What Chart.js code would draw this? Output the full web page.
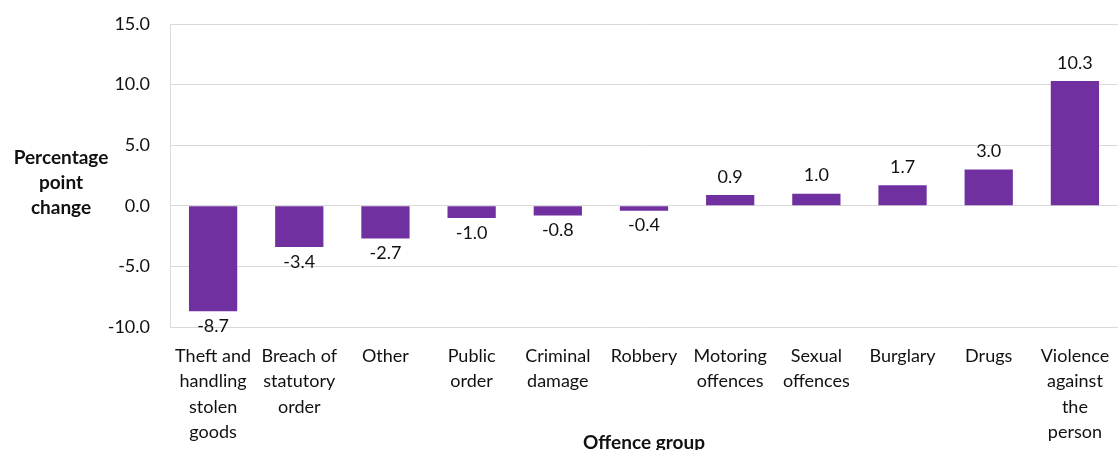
<!DOCTYPE html>
<html>
<head>
<meta charset="utf-8">
<script src="https://cdn.jsdelivr.net/npm/chart.js@4"></script>
<style>
  html, body { margin: 0; padding: 0; background: #fff; }
  #wrap { width: 1118px; height: 450px; }
</style>
</head>
<body>
<div id="wrap"><canvas id="chart" width="1118" height="450"></canvas></div>
<script>
// Offence groups (x axis), multi-line as in the source
const offenceGroups = [
    ['Theft and', 'handling', 'stolen', 'goods'],
    ['Breach of', 'statutory', 'order'],
    'Other',
    ['Public', 'order'],
    ['Criminal', 'damage'],
    'Robbery',
    ['Motoring', 'offences'],
    ['Sexual', 'offences'],
    'Burglary',
    'Drugs',
    ['Violence', 'against', 'the', 'person']
];

// Percentage point change per group
const pointChange = [-8.7, -3.4, -2.7, -1.0, -0.8, -0.4, 0.9, 1.0, 1.7, 3.0, 10.3];

const yTicks = { min: -10, max: 15, step: 5 };
const yTitle = ['Percentage', 'point', 'change'];
const xTitle = 'Offence group';

const FONT = 'Lato, "Open Sans", sans-serif';
const TEXT = '#111111';
const GRID = '#d9d9d9';

// value labels above/below each bar
const valueLabels = {
    id: 'valueLabels',
    afterDatasetsDraw(chart) {
        const ctx = chart.ctx;
        const meta = chart.getDatasetMeta(0);
        ctx.save();
        ctx.font = '18px ' + FONT;
        ctx.fillStyle = TEXT;
        ctx.textAlign = 'center';
        meta.data.forEach((bar, i) => {
            const v = chart.data.datasets[0].data[i];
            if (v >= 0) {
                ctx.textBaseline = 'bottom';
                ctx.fillText(v.toFixed(1), bar.x, bar.y - 9);
            } else {
                ctx.textBaseline = 'top';
                ctx.fillText(v.toFixed(1), bar.x, bar.y + 6);
            }
        });
        ctx.restore();
    }
};

// axis titles drawn flat, like the original
const axisTitles = {
    id: 'axisTitles',
    afterDraw(chart) {
        const ctx = chart.ctx;
        const area = chart.chartArea;
        ctx.save();
        ctx.font = 'bold 19px ' + FONT;
        ctx.fillStyle = TEXT;
        ctx.textAlign = 'center';
        ctx.textBaseline = 'middle';
        yTitle.forEach((line, i) => ctx.fillText(line, 61, 158 + i * 25));
        ctx.fillText(xTitle, (area.left + area.right) / 2, 443);
        ctx.restore();
    }
};

new Chart(document.getElementById('chart'), {
    type: 'bar',
    data: {
        labels: offenceGroups,
        datasets: [{
            data: pointChange,
            backgroundColor: '#7030A0',
            borderWidth: 0,
            barPercentage: 0.56,
            categoryPercentage: 1.0
        }]
    },
    options: {
        responsive: false,
        animation: false,
        layout: { padding: { top: 24, right: 0, bottom: 0, left: 0 } },
        plugins: {
            legend: { display: false },
            tooltip: { enabled: false }
        },
        scales: {
            x: {
                grid: { display: false, drawTicks: false },
                border: { display: false },
                ticks: {
                    color: TEXT,
                    font: { family: FONT, size: 18, lineHeight: 1.42 },
                    padding: 16,
                    maxRotation: 0,
                    autoSkip: false
                },
                afterFit(scale) {
                    scale.height = 123;
                    scale.paddingLeft = 0;
                    scale.paddingRight = 0;
                }
            },
            y: {
                min: yTicks.min,
                max: yTicks.max,
                grid: { color: GRID, lineWidth: 1, drawTicks: false },
                border: { display: true, color: GRID },
                ticks: {
                    stepSize: yTicks.step,
                    color: TEXT,
                    font: { family: FONT, size: 18 },
                    padding: 20,
                    callback: v => v.toFixed(1)
                },
                afterFit(scale) {
                    scale.width = 170;
                    scale.paddingTop = 0;
                    scale.paddingBottom = 0;
                }
            }
        }
    },
    plugins: [valueLabels, axisTitles]
});
</script>
</body>
</html>
